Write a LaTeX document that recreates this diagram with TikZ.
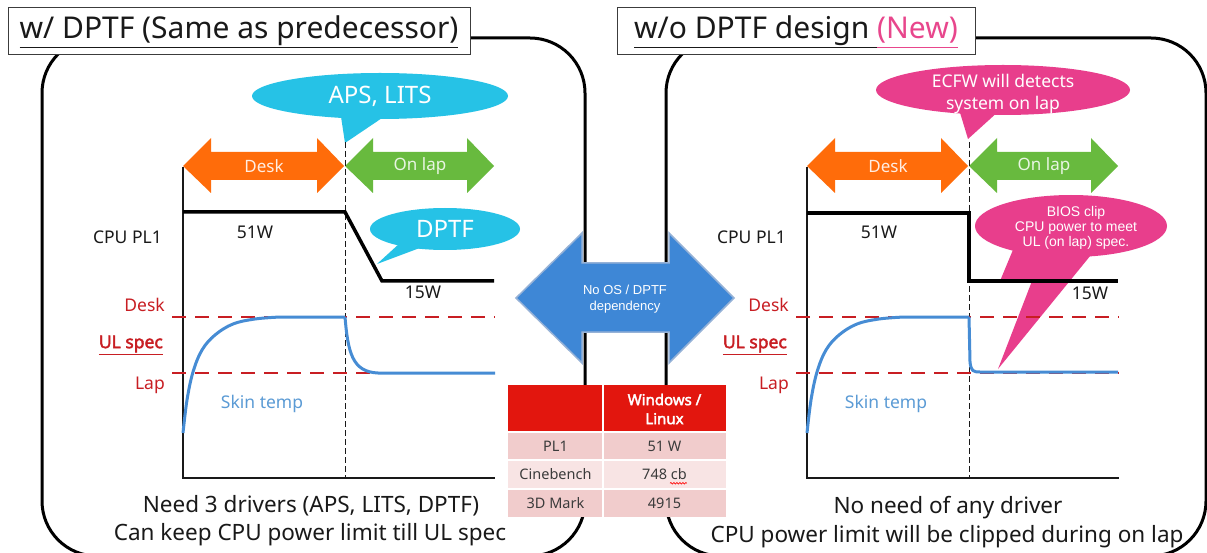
\documentclass[tikz,border=0pt]{standalone}
\usepackage{fontspec}
\setmainfont{Noto Sans}[AutoFakeBold=2.5]
\newfontfamily\arialf{Liberation Sans}
\usetikzlibrary{shapes.geometric,decorations.pathmorphing}
\definecolor{cyanc}{RGB}{38,194,230}
\definecolor{pinkc}{RGB}{232,62,140}
\definecolor{oranc}{RGB}{255,108,10}
\definecolor{greenc}{RGB}{104,186,62}
\definecolor{redl}{RGB}{200,30,35}
\definecolor{bluel}{RGB}{70,140,212}
\definecolor{skinc}{RGB}{91,155,213}
\definecolor{arrowb}{RGB}{62,135,214}
\definecolor{arrowe}{RGB}{150,178,215}
\definecolor{tabred}{RGB}{226,22,14}
\definecolor{tabpk}{RGB}{241,204,204}
\definecolor{tabpl}{RGB}{248,228,228}
\definecolor{newpk}{RGB}{232,70,140}
\definecolor{txtc}{RGB}{25,25,25}
\definecolor{boxc}{RGB}{60,60,60}
\newcommand\ulfix[1]{\underline{\vphantom{gp()}#1}}
\newcommand\chartbase{%
  \fill[oranc] (183,166) -- (211,138) -- (211,152) -- (317,152) -- (317,138) -- (344,166) -- (317,193) -- (317,180) -- (211,180) -- (211,193) -- cycle;
  \fill[greenc] (345,166) -- (373,138) -- (373,152) -- (467,152) -- (467,138) -- (494,166) -- (467,193) -- (467,180) -- (373,180) -- (373,193) -- cycle;
  \node[arrtxt, text=white!88!oranc] (desk) at (264,166) {Desk};
  \node[arrtxt, text=white!85!greenc] (onlap) at (420,166) {On lap};
  \coordinate (o) at (183,478);
  \coordinate (ytop) at (183,167);
  \coordinate (xend) at (495,478);
  \coordinate (vtop) at (345,142);
  \coordinate (vbot) at (345,478);
  \draw[axisline] (ytop) -- (o) -- (xend);
  \draw[vdashline] (vtop) -- (vbot);
  \coordinate (d1) at (172,317); \coordinate (d2) at (495,317);
  \coordinate (l1) at (172,373); \coordinate (l2) at (495,373);
  \draw[reddash] (d1) -- (d2);
  \draw[reddash] (l1) -- (l2);
  \node[lbl, anchor=east] (cpu) at (162,237) {CPU PL1};
  \node[lbl] (w51) at (255,232) {51W};
  \node[lbl, anchor=east, text=redl] (dsk) at (165,305) {Desk};
  \node[lbl, anchor=east, text=redl, font=\fontsize{17.5}{21}\selectfont\bfseries] (ul) at (163,345) {\underline{UL spec}};
  \node[lbl, anchor=east, text=redl] (lp) at (165,385) {Lap};
  \node[lbl, text=skinc] (skin) at (262,404) {Skin temp};
  \draw[skinline] plot[smooth, tension=0.6] coordinates {(183,433) (187,400) (193,372) (202,350) (215,335) (233,324) (255,319) (280,317)} -- (345,317);
}
\begin{document}
\begin{tikzpicture}[x=1pt,y=-1pt,
  frame/.style={draw=black, line width=3pt, rounded corners=55pt},
  titlebox/.style={draw=boxc, line width=1pt, fill=white, minimum height=47pt, inner sep=0pt, text=txtc, font=\fontsize{30}{36}\selectfont},
  arrtxt/.style={font=\fontsize{17}{20}\selectfont, inner sep=0pt},
  lbl/.style={font=\fontsize{17.5}{21}\selectfont, text=txtc, inner sep=0pt},
  axisline/.style={draw=txtc, line width=1.3pt},
  vdashline/.style={draw=txtc, line width=1pt, dash pattern=on 6pt off 3pt},
  reddash/.style={draw=redl, line width=2pt, dash pattern=on 14pt off 9pt},
  skinline/.style={draw=bluel, line width=3pt, line join=round},
  pl1/.style={draw=black, line width=3.5pt},
  bubble/.style={ellipse, inner sep=0pt, text=white},
  bottomtxt/.style={font=\fontsize{22.5}{26}\selectfont, text=txtc, inner sep=0pt},
  celltxt/.style={font=\fontsize{14.5}{18}\selectfont, text=txtc!85!white, inner sep=0pt}
]
\useasboundingbox (0,0) rectangle (1207,553);
\clip (0,0) rectangle (1207,553);
\fill[white] (0,0) rectangle (1207,553);
% frames
\draw[frame] (42,38) rectangle (585,556);
\draw[frame] (666,38) rectangle (1206,556);
% titles
\node[titlebox, minimum width=462pt] (t1) at (239,31.5) {\ulfix{w/ DPTF (Same as predecessor)}};
\node[titlebox, minimum width=358pt] (t2) at (796,31.5) {\ulfix{w/o DPTF design }\textcolor{newpk}{\ulfix{(New)}}};
% callouts left
\fill[cyanc] (340,110) -- (345,143) -- (388,114) -- cycle;
\node[bubble, fill=cyanc, minimum width=256pt, minimum height=46pt, font=\fontsize{24}{28}\selectfont] (aps) at (380,96) {APS, LITS};
\fill[cyanc] (400,243) -- (377,264) -- (425,246) -- cycle;
\node[bubble, fill=cyanc, minimum width=150pt, minimum height=42pt, font=\fontsize{24}{28}\selectfont] (dptf) at (445,229) {DPTF};
% callouts right
\fill[pinkc] (958,106) -- (968,139) -- (1000,110) -- cycle;
\node[bubble, fill=pinkc, minimum width=254pt, minimum height=50pt] (ecfw) at (1003,90) {};
\node[font=\fontsize{17.5}{22}\selectfont, text=white, align=center, inner sep=0pt] (ecfwt) at (1003,94) {ECFW will detects\\system on lap};
\fill[pinkc] (1015,245) -- (1000,281) -- (1032,281) -- (998,369) -- (1095,250) -- cycle;
\node[bubble, fill=pinkc, minimum width=192pt, minimum height=62pt] (bios) at (1071,226) {};
\node[font=\arialf\fontsize{14}{15}\selectfont, text=white, align=center, inner sep=0pt] (biost) at (1076,228) {BIOS clip\\CPU power to meet\\UL (on lap) spec.};
% charts
\begin{scope}[name prefix=L-]
  \chartbase
  \draw[pl1] (183,212) -- (345,212) -- (382,281) -- (494,281);
  \draw[skinline] (345,317) .. controls (348,352) and (352,372) .. (378,373) -- (495,373);
  \node[lbl] (w15) at (423,292) {15W};
\end{scope}
\begin{scope}[xshift=624pt, name prefix=R-]
  \chartbase
\end{scope}
\draw[pl1] (807,213) -- (969,213) -- (969,281) -- (1118,281);
\draw[skinline] (969,317) -- (970,362) .. controls (971,371) and (973,372) .. (980,372) -- (1118,372);
\node[lbl] (R-w15) at (1090,293) {15W};
% bottom texts
\node[bottomtxt] (lb1) at (311,506) {Need 3 drivers (APS, LITS, DPTF)};
\node[bottomtxt] (lb2) at (310,535) {Can keep CPU power limit till UL spec};
\node[bottomtxt] (rb1) at (948,508) {No need of any driver};
\node[bottomtxt] (rb2) at (947,537) {CPU power limit will be clipped during on lap};
% central arrow
\fill[arrowb, draw=arrowe, line width=1.5pt] (516,298) -- (582,233) -- (582,263) -- (669,263) -- (669,233) -- (734,298) -- (669,363) -- (669,332) -- (582,332) -- (582,363) -- cycle;
\node[font=\arialf\fontsize{13}{16}\selectfont, text=white, align=center, inner sep=0pt] (noos) at (625,299) {No OS / DPTF\\dependency};
% table
\fill[tabred] (508,385) rectangle (726,432);
\fill[tabpk] (508,432) rectangle (726,460);
\fill[tabpl] (508,460) rectangle (726,489);
\fill[tabpk] (508,489) rectangle (726,517);
\draw[white, line width=2pt] (603,385) -- (603,517);
\draw[white, line width=2pt] (508,432) -- (726,432);
\draw[white, line width=2pt] (508,460) -- (726,460);
\draw[white, line width=2pt] (508,489) -- (726,489);
\node[font=\fontsize{15}{19}\selectfont\bfseries, text=white, align=center, inner sep=0pt] (hdr) at (664.5,409) {Windows /\\Linux};
\node[celltxt] (c11) at (555.5,446) {PL1};
\node[celltxt] (c12) at (664.5,446) {51 W};
\node[celltxt] (c21) at (555.5,474.5) {Cinebench};
\node[celltxt] (c22) at (664.5,474.5) {748 cb};
\node[celltxt] (c31) at (555.5,503) {3D Mark};
\node[celltxt] (c32) at (664.5,503) {4915};
\draw[red, line width=0.6pt, decorate, decoration={snake, amplitude=0.8pt, segment length=3pt}] ([xshift=-17pt,yshift=-3pt]c22.south east) -- ([yshift=-3pt]c22.south east);
\end{tikzpicture}
\end{document}
